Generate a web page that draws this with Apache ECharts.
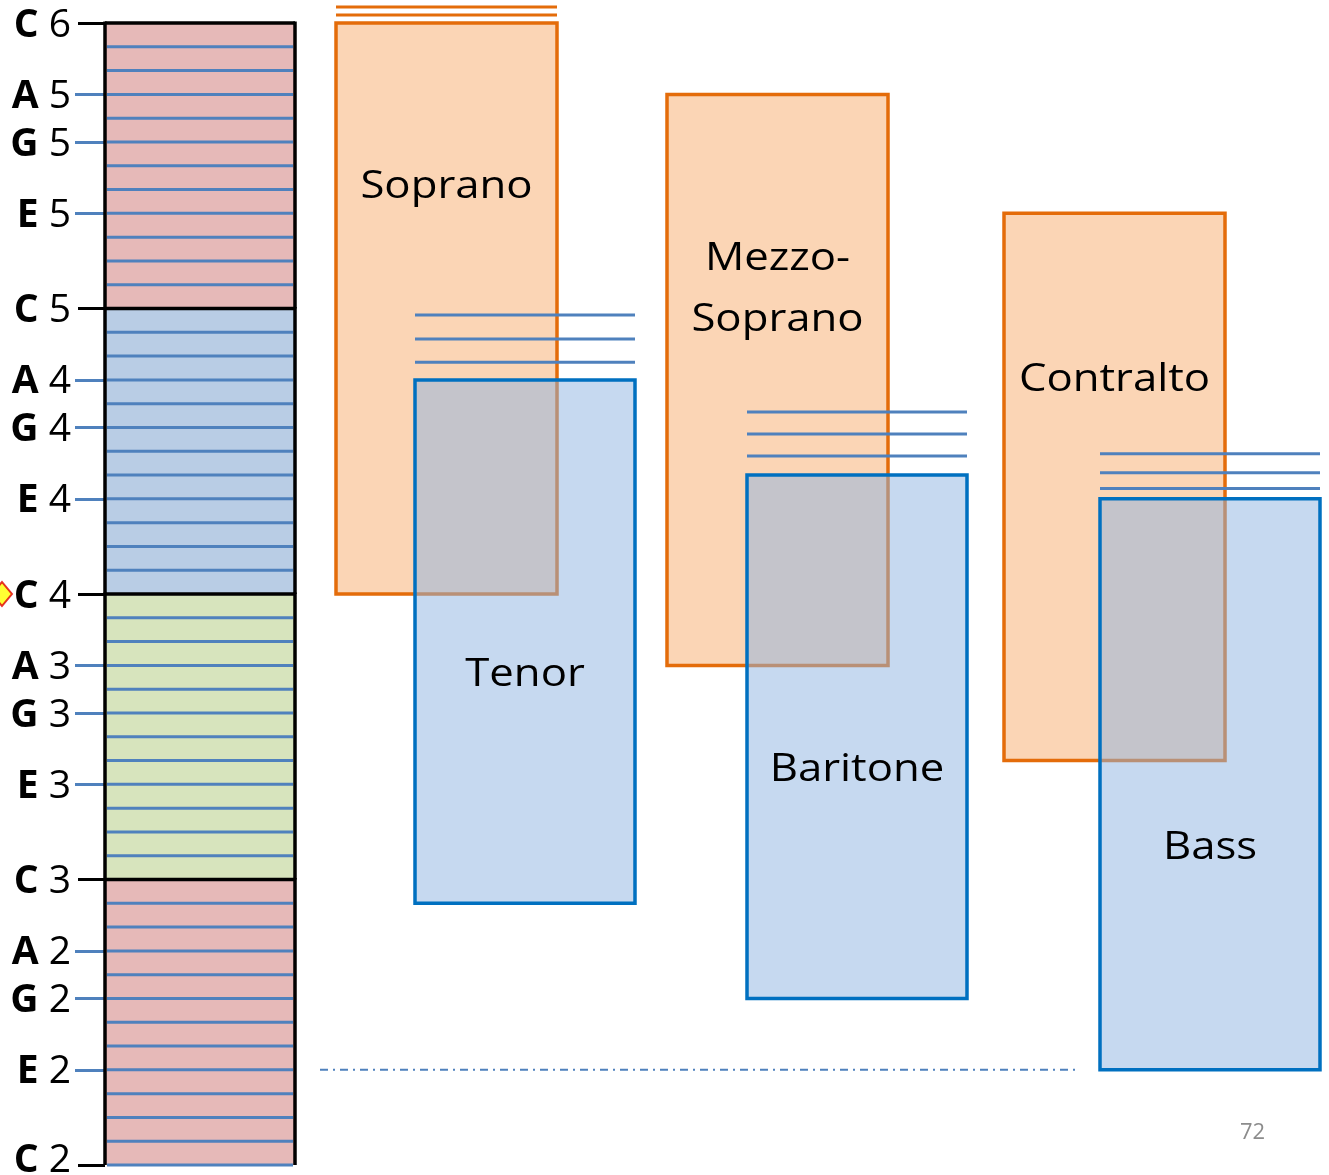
<!DOCTYPE html>
<html>
<head>
<meta charset="utf-8">
<script src="https://cdn.jsdelivr.net/npm/echarts@6/dist/echarts.min.js"></script>
<style>
  html, body { margin: 0; padding: 0; background: #fff; }
  #main { width: 1329px; height: 1175px; }
</style>
</head>
<body>
<div id="main"></div>
<script>
// y = semitones above C2
var voices = ['Soprano', 'Mezzo-\nSoprano', 'Contralto', 'Tenor', 'Baritone', 'Bass'];
var lowNote = [24, 21, 17, 11, 7, 4];
var highNote = [48, 45, 40, 33, 29, 28];
var labelNote = [41.1, 36.8, 33.0, 20.6, 16.6, 13.3];
var ledgerNotes = [[48.34, 48.67], [], [], [33.74, 34.72, 35.73], [29.8, 30.73, 31.65], [28.43, 29.1, 29.89]];
var octaveStart = [0, 12, 24, 36];
var cTicks = [0, 12, 24, 36, 48];
var otherTicks = [4, 7, 9, 16, 19, 21, 28, 31, 33, 40, 43, 45];
var middleC = 24;
var lowE = 4;
var pageNo = '72';

// layout (x units, keyboard left edge = 0)
var keyX = [0, 190];
var boxX = [[231, 452], [562, 783], [899, 1120], [310, 530], [642, 862], [995, 1215]];
var dashX = [215, 973];
var bandColors = ['#e6b9b8', '#d7e4bd', '#b9cde5', '#e6b9b8'];

var noteNames = {0: 'C', 4: 'E', 7: 'G', 9: 'A'};
function noteLabel(v) {
    // lowest label sits a little higher so it stays on the page
    var s = v === 0 ? '0' : '';
    return '{l' + s + '|' + noteNames[v % 12] + '}{n' + s + '| ' + (2 + Math.floor(v / 12)) + '}';
}
var labelRich = {
    l: {fontFamily: 'Open Sans', fontWeight: 'bold', fontSize: 39, color: '#000'},
    n: {fontFamily: 'Open Sans', fontSize: 39, color: '#000'},
    l0: {fontFamily: 'Open Sans', fontWeight: 'bold', fontSize: 39, color: '#000', padding: [0, 0, 14, 0]},
    n0: {fontFamily: 'Open Sans', fontSize: 39, color: '#000', padding: [0, 0, 14, 0]}
};

var chart = echarts.init(document.getElementById('main'));

var option = {
    animation: false,
    grid: {left: 105, right: 0, top: 23, bottom: 10, containLabel: false, outerBoundsMode: 'none'},
    xAxis: {type: 'value', min: 0, max: 1224, show: false},
    yAxis: [
        {
            type: 'value', min: 0, max: 48, position: 'left',
            axisLine: {show: false},
            splitLine: {show: false},
            axisTick: {customValues: cTicks, length: 27, lineStyle: {color: '#000', width: 3}},
            axisLabel: {customValues: cTicks, margin: 34, padding: [5, 0, 0, 0], formatter: noteLabel, rich: labelRich}
        },
        {
            type: 'value', min: 0, max: 48, position: 'left',
            axisLine: {show: false},
            splitLine: {show: false},
            axisTick: {customValues: otherTicks, length: 30, lineStyle: {color: '#4f81bd', width: 3}},
            axisLabel: {customValues: otherTicks, margin: 34, padding: [5, 0, 0, 0], formatter: noteLabel, rich: labelRich}
        }
    ],
    graphic: [{
        type: 'text', left: 1240, top: 1122,
        style: {text: pageNo, fill: '#8c8c8c', fontSize: 22, fontFamily: 'Open Sans'}
    }],
    series: [
        // keyboard colour bands
        {
            type: 'custom',
            data: octaveStart.map(function (s, i) { return [keyX[0], s, i]; }),
            renderItem: function (params, api) {
                var s = api.value(1), i = api.value(2);
                var p0 = api.coord([keyX[0], s + 12]);
                var p1 = api.coord([keyX[1], s]);
                return {
                    type: 'rect',
                    shape: {x: p0[0], y: p0[1], width: p1[0] - p0[0], height: p1[1] - p0[1]},
                    style: {fill: bandColors[i]}
                };
            }
        },
        // keyboard semitone lines and borders
        {
            type: 'custom',
            data: octaveStart.map(function (s) { return [keyX[0], s]; }),
            renderItem: function (params, api) {
                var s = api.value(1);
                var children = [];
                for (var k = 0; k < 12; k++) {
                    var y = api.coord([0, s + k])[1];
                    if (k === 0 && s > 0) continue;
                    children.push({
                        type: 'line',
                        shape: {x1: api.coord([keyX[0] + 2, 0])[0], y1: y, x2: api.coord([keyX[1] - 2, 0])[0], y2: y},
                        style: {stroke: '#4f81bd', lineWidth: 3}
                    });
                }
                var top = api.coord([0, s + 12])[1], bot = api.coord([0, s])[1];
                var xl = api.coord([keyX[0], 0])[0], xr = api.coord([keyX[1], 0])[0];
                children.push({type: 'line', shape: {x1: xl, y1: top, x2: xr, y2: top}, style: {stroke: '#000', lineWidth: 3.5}});
                children.push({type: 'line', shape: {x1: xl, y1: top - 1.5, x2: xl, y2: bot}, style: {stroke: '#000', lineWidth: 3.5}});
                children.push({type: 'line', shape: {x1: xr, y1: top - 1.5, x2: xr, y2: bot}, style: {stroke: '#000', lineWidth: 3.5}});
                return {type: 'group', children: children};
            }
        },
        // voice ranges
        {
            type: 'custom',
            data: voices.map(function (v, i) { return [boxX[i][0], lowNote[i], boxX[i][1], highNote[i], labelNote[i], i]; }),
            encode: {x: [0, 2], y: [1, 3]},
            renderItem: function (params, api) {
                var i = api.value(5);
                var p0 = api.coord([api.value(0), api.value(3)]);
                var p1 = api.coord([api.value(2), api.value(1)]);
                var female = i < 3;
                var ly = api.coord([0, api.value(4)])[1];
                return {
                    type: 'group',
                    children: [
                        {
                            type: 'rect',
                            shape: {x: p0[0], y: p0[1], width: p1[0] - p0[0], height: p1[1] - p0[1]},
                            style: female
                                ? {fill: '#fbd5b5', stroke: '#e46c0a', lineWidth: 3.5}
                                : {fill: 'rgba(141,179,226,0.5)', stroke: '#0070c0', lineWidth: 3.5}
                        },
                        {
                            type: 'text',
                            x: (p0[0] + p1[0]) / 2, y: ly, scaleX: 1.15,
                            style: {
                                text: voices[i], fill: '#000', fontFamily: 'Open Sans', fontSize: 38,
                                align: 'center', verticalAlign: 'middle', lineHeight: 61
                            },
                            z2: 10
                        }
                    ]
                };
            }
        },
        // ledger lines above the ranges
        {
            type: 'custom',
            clip: false,
            data: voices.map(function (v, i) { return [boxX[i][0], highNote[i], boxX[i][1], i]; }),
            renderItem: function (params, api) {
                var i = api.value(3);
                var xl = api.coord([api.value(0), 0])[0], xr = api.coord([api.value(2), 0])[0];
                return {
                    type: 'group',
                    children: ledgerNotes[i].map(function (n) {
                        var y = api.coord([0, n])[1];
                        return {
                            type: 'line',
                            shape: {x1: xl, y1: y, x2: xr, y2: y},
                            style: {stroke: i < 3 ? '#e46c0a' : '#4f81bd', lineWidth: 3}
                        };
                    })
                };
            }
        },
        // low E dash-dot line
        {
            type: 'line',
            data: [[dashX[0], lowE], [dashX[1], lowE]],
            symbol: 'none',
            lineStyle: {color: '#4f81bd', width: 2, type: [8, 5, 2, 5]}
        },
        // middle C marker
        {
            type: 'scatter',
            clip: false,
            data: [[-103, middleC]],
            symbol: 'diamond',
            symbolSize: [20, 24],
            itemStyle: {color: '#ffff00', borderColor: '#e00000', borderWidth: 2}
        }
    ]
};

chart.setOption(option);
</script>
</body>
</html>
